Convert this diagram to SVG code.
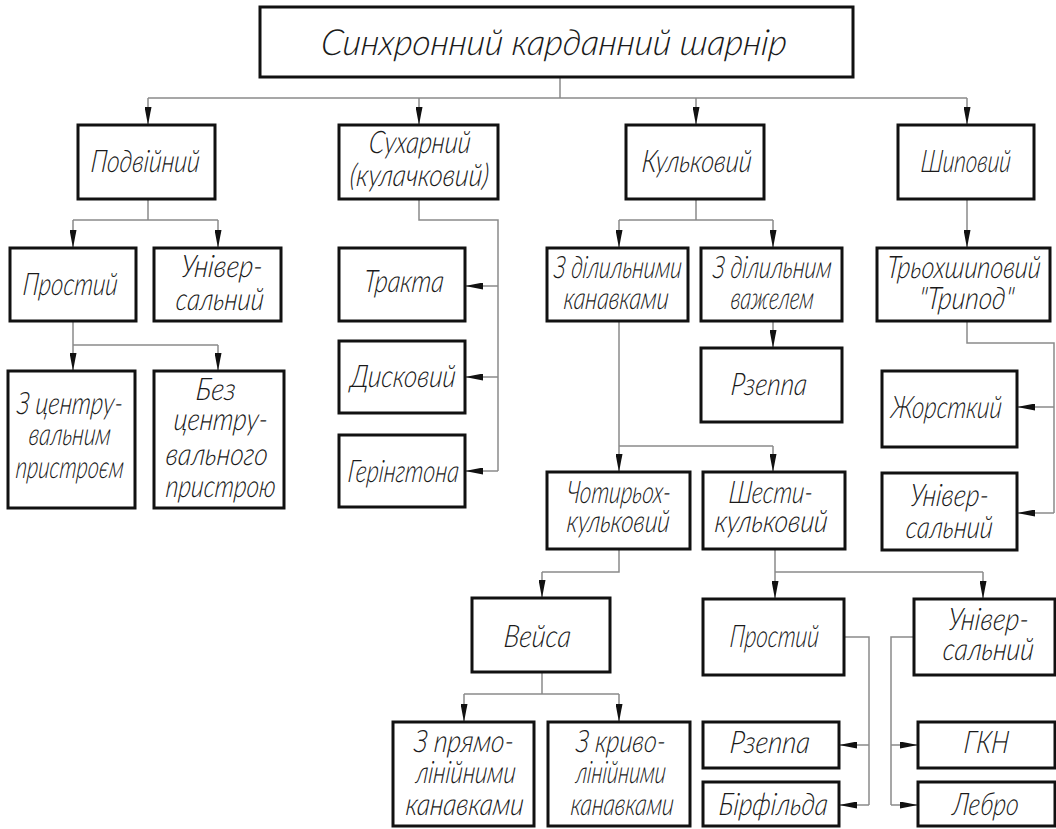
<svg xmlns="http://www.w3.org/2000/svg" width="1056" height="829" viewBox="0 0 1056 829">
<style>
.b{fill:#fff;stroke:#111;stroke-width:3}
.t{font-family:Lato,"DejaVu Sans",sans-serif;font-style:italic;font-weight:300;font-size:31px;fill:#1a1a1a}
.tt{font-size:36px}
.c{fill:none;stroke:#8a8a8a;stroke-width:1.5}
.a{fill:none;stroke:#8a8a8a;stroke-width:1.5;marker-end:url(#ar)}
</style>
<defs>
<marker id="ar" markerUnits="userSpaceOnUse" viewBox="0 0 18 7" refX="18" refY="3.5" markerWidth="18" markerHeight="7" orient="auto">
<path d="M0,0 L18,3.5 L0,7 Z" fill="#111"/>
</marker>
</defs>
<rect width="1056" height="829" fill="#fff"/>
<g id="connectors">
<path class="c" d="M560,77 V98 M148,98 H967"/>
<path class="a" d="M148,98 V125"/><path class="a" d="M419,98 V125"/><path class="a" d="M696,98 V125"/><path class="a" d="M967,98 V125"/>
<path class="c" d="M148,199 V220 M73,220 H218"/>
<path class="a" d="M73,220 V248"/><path class="a" d="M218,220 V248"/>
<path class="c" d="M73,321 V345 M73,345 H218"/>
<path class="a" d="M73,345 V371"/><path class="a" d="M218,345 V371"/>
<path class="c" d="M419,199 V220 H498 V471"/>
<path class="a" d="M498,286 H465"/><path class="a" d="M498,377 H465"/><path class="a" d="M498,471 H465"/>
<path class="c" d="M696,199 V220 M619,220 H773"/>
<path class="a" d="M619,220 V248"/><path class="a" d="M773,220 V248"/>
<path class="a" d="M773,321 V348"/>
<path class="c" d="M619,321 V446 M619,446 H773"/>
<path class="a" d="M619,446 V472"/><path class="a" d="M773,446 V472"/>
<path class="a" d="M967,199 V248"/>
<path class="c" d="M967,321 V343 H1054 V513"/>
<path class="a" d="M1054,407 H1017"/><path class="a" d="M1054,513 H1017"/>
<path class="c" d="M619,549 V572 H542"/>
<path class="a" d="M542,572 V598"/>
<path class="c" d="M542,672 V694 M464,694 H619"/>
<path class="a" d="M464,694 V722"/><path class="a" d="M619,694 V722"/>
<path class="c" d="M775,549 V572 M775,572 H983"/>
<path class="a" d="M775,572 V599"/><path class="a" d="M983,572 V599"/>
<path class="c" d="M844,637 H869 V805"/>
<path class="a" d="M869,745 H839"/><path class="a" d="M869,805 H839"/>
<path class="c" d="M914,637 H891 V805"/>
<path class="a" d="M891,745 H918"/><path class="a" d="M891,805 H918"/>
</g>
<g id="n-root"><rect class="b" x="260" y="7" width="593" height="70"/><text class="t tt" transform="translate(320,55) skewX(-6) scale(0.8,1)" textLength="582.5" lengthAdjust="spacingAndGlyphs">Синхронний карданний шарнір</text></g>
<g id="n-podviynyi"><rect class="b" x="78" y="125" width="137" height="74"/><text class="t" transform="translate(90,172) skewX(-6) scale(0.8,1)" textLength="136.25" lengthAdjust="spacingAndGlyphs">Подвійний</text></g>
<g id="n-sukharnyi"><rect class="b" x="339" y="125" width="159" height="74"/><text class="t" transform="translate(368,153) skewX(-6) scale(0.8,1)" textLength="127.5" lengthAdjust="spacingAndGlyphs">Сухарний</text><text class="t" transform="translate(349,186) skewX(-6) scale(0.8,1)" textLength="173.75" lengthAdjust="spacingAndGlyphs">(кулачковий)</text></g>
<g id="n-kulkovyi"><rect class="b" x="626" y="125" width="138" height="74"/><text class="t" transform="translate(641,172) skewX(-6) scale(0.8,1)" textLength="137.5" lengthAdjust="spacingAndGlyphs">Кульковий</text></g>
<g id="n-shypovyi"><rect class="b" x="898" y="125" width="136" height="74"/><text class="t" transform="translate(920,172) skewX(-6) scale(0.8,1)" textLength="112.5" lengthAdjust="spacingAndGlyphs">Шиповий</text></g>
<g id="n-prostyi1"><rect class="b" x="10" y="248" width="126" height="73"/><text class="t" transform="translate(22,295) skewX(-6) scale(0.8,1)" textLength="118.75" lengthAdjust="spacingAndGlyphs">Простий</text></g>
<g id="n-universal1"><rect class="b" x="154" y="248" width="127" height="73"/><text class="t" transform="translate(180,277) skewX(-6) scale(0.8,1)" textLength="102.5" lengthAdjust="spacingAndGlyphs">Універ-</text><text class="t" transform="translate(175,310) skewX(-6) scale(0.8,1)" textLength="110" lengthAdjust="spacingAndGlyphs">сальний</text></g>
<g id="n-z-tsentr"><rect class="b" x="8" y="371" width="127" height="137"/><text class="t" transform="translate(16,414) skewX(-6) scale(0.8,1)" textLength="132.5" lengthAdjust="spacingAndGlyphs">З центру-</text><text class="t" transform="translate(28,445) skewX(-6) scale(0.8,1)" textLength="102.5" lengthAdjust="spacingAndGlyphs">вальним</text><text class="t" transform="translate(15,478) skewX(-6) scale(0.8,1)" textLength="135" lengthAdjust="spacingAndGlyphs">пристроєм</text></g>
<g id="n-bez-tsentr"><rect class="b" x="154" y="371" width="130" height="137"/><text class="t" transform="translate(195,400) skewX(-6) scale(0.8,1)" textLength="50" lengthAdjust="spacingAndGlyphs">Без</text><text class="t" transform="translate(173,430) skewX(-6) scale(0.8,1)" textLength="117.5" lengthAdjust="spacingAndGlyphs">центру-</text><text class="t" transform="translate(165,465) skewX(-6) scale(0.8,1)" textLength="127.5" lengthAdjust="spacingAndGlyphs">вального</text><text class="t" transform="translate(165,497) skewX(-6) scale(0.8,1)" textLength="137.5" lengthAdjust="spacingAndGlyphs">пристрою</text></g>
<g id="n-trakta"><rect class="b" x="339" y="248" width="126" height="73"/><text class="t" transform="translate(363,292) skewX(-6) scale(0.8,1)" textLength="100" lengthAdjust="spacingAndGlyphs">Тракта</text></g>
<g id="n-dyskovyi"><rect class="b" x="339" y="341" width="126" height="72"/><text class="t" transform="translate(350,387) skewX(-6) scale(0.8,1)" textLength="131.25" lengthAdjust="spacingAndGlyphs">Дисковий</text></g>
<g id="n-herinhtona"><rect class="b" x="339" y="435" width="126" height="72"/><text class="t" transform="translate(347,482) skewX(-6) scale(0.8,1)" textLength="138.75" lengthAdjust="spacingAndGlyphs">Герінгтона</text></g>
<g id="n-dil-kanav"><rect class="b" x="547" y="248" width="141" height="73"/><text class="t" transform="translate(553,278) skewX(-6) scale(0.8,1)" textLength="160" lengthAdjust="spacingAndGlyphs">З ділильними</text><text class="t" transform="translate(563,309) skewX(-6) scale(0.8,1)" textLength="131.25" lengthAdjust="spacingAndGlyphs">канавками</text></g>
<g id="n-dil-vazh"><rect class="b" x="701" y="248" width="141" height="73"/><text class="t" transform="translate(712,278) skewX(-6) scale(0.8,1)" textLength="148.75" lengthAdjust="spacingAndGlyphs">З ділильним</text><text class="t" transform="translate(730,309) skewX(-6) scale(0.8,1)" textLength="103.75" lengthAdjust="spacingAndGlyphs">важелем</text></g>
<g id="n-rzeppa1"><rect class="b" x="701" y="348" width="141" height="74"/><text class="t" transform="translate(730,395) skewX(-6) scale(0.8,1)" textLength="95" lengthAdjust="spacingAndGlyphs">Рзеппа</text></g>
<g id="n-tripod"><rect class="b" x="877" y="248" width="173" height="73"/><text class="t" transform="translate(886,278) skewX(-6) scale(0.8,1)" textLength="192.5" lengthAdjust="spacingAndGlyphs">Трьохшиповий</text><text class="t" transform="translate(918,309) skewX(-6) scale(0.8,1)" textLength="118.75" lengthAdjust="spacingAndGlyphs">"Трипод"</text></g>
<g id="n-zhorstkyi"><rect class="b" x="882" y="371" width="135" height="76"/><text class="t" transform="translate(890,418) skewX(-6) scale(0.8,1)" textLength="138.75" lengthAdjust="spacingAndGlyphs">Жорсткий</text></g>
<g id="n-universal2"><rect class="b" x="882" y="473" width="135" height="77"/><text class="t" transform="translate(909,506) skewX(-6) scale(0.8,1)" textLength="98.75" lengthAdjust="spacingAndGlyphs">Універ-</text><text class="t" transform="translate(905,538) skewX(-6) scale(0.8,1)" textLength="108.75" lengthAdjust="spacingAndGlyphs">сальний</text></g>
<g id="n-chotyrokh"><rect class="b" x="547" y="472" width="143" height="77"/><text class="t" transform="translate(566,503) skewX(-6) scale(0.8,1)" textLength="130" lengthAdjust="spacingAndGlyphs">Чотирьох-</text><text class="t" transform="translate(566,532) skewX(-6) scale(0.8,1)" textLength="128.75" lengthAdjust="spacingAndGlyphs">кульковий</text></g>
<g id="n-shesty"><rect class="b" x="703" y="472" width="142" height="77"/><text class="t" transform="translate(728,503) skewX(-6) scale(0.8,1)" textLength="105" lengthAdjust="spacingAndGlyphs">Шести-</text><text class="t" transform="translate(714,532) skewX(-6) scale(0.8,1)" textLength="141.25" lengthAdjust="spacingAndGlyphs">кульковий</text></g>
<g id="n-veisa"><rect class="b" x="472" y="598" width="138" height="74"/><text class="t" transform="translate(503,647) skewX(-6) scale(0.8,1)" textLength="83.75" lengthAdjust="spacingAndGlyphs">Вейса</text></g>
<g id="n-priamo"><rect class="b" x="393" y="722" width="141" height="104"/><text class="t" transform="translate(413,752) skewX(-6) scale(0.8,1)" textLength="125" lengthAdjust="spacingAndGlyphs">З прямо-</text><text class="t" transform="translate(415,783) skewX(-6) scale(0.8,1)" textLength="125" lengthAdjust="spacingAndGlyphs">лінійними</text><text class="t" transform="translate(405,815) skewX(-6) scale(0.8,1)" textLength="147.5" lengthAdjust="spacingAndGlyphs">канавками</text></g>
<g id="n-kryvo"><rect class="b" x="548" y="722" width="142" height="104"/><text class="t" transform="translate(575,752) skewX(-6) scale(0.8,1)" textLength="112.5" lengthAdjust="spacingAndGlyphs">З криво-</text><text class="t" transform="translate(575,783) skewX(-6) scale(0.8,1)" textLength="112.5" lengthAdjust="spacingAndGlyphs">лінійними</text><text class="t" transform="translate(570,815) skewX(-6) scale(0.8,1)" textLength="128.75" lengthAdjust="spacingAndGlyphs">канавками</text></g>
<g id="n-prostyi2"><rect class="b" x="703" y="599" width="141" height="76"/><text class="t" transform="translate(729,647) skewX(-6) scale(0.8,1)" textLength="111.25" lengthAdjust="spacingAndGlyphs">Простий</text></g>
<g id="n-universal3"><rect class="b" x="914" y="599" width="141" height="76"/><text class="t" transform="translate(947,630) skewX(-6) scale(0.8,1)" textLength="101.25" lengthAdjust="spacingAndGlyphs">Універ-</text><text class="t" transform="translate(942,660) skewX(-6) scale(0.8,1)" textLength="113.75" lengthAdjust="spacingAndGlyphs">сальний</text></g>
<g id="n-rzeppa2"><rect class="b" x="703" y="722" width="136" height="46"/><text class="t" transform="translate(729,753) skewX(-6) scale(0.8,1)" textLength="100" lengthAdjust="spacingAndGlyphs">Рзеппа</text></g>
<g id="n-birfilda"><rect class="b" x="703" y="782" width="136" height="44"/><text class="t" transform="translate(718,815) skewX(-6) scale(0.8,1)" textLength="136.25" lengthAdjust="spacingAndGlyphs">Бірфільда</text></g>
<g id="n-gkn"><rect class="b" x="918" y="722" width="137" height="46"/><text class="t" transform="translate(963,753) skewX(-6) scale(0.8,1)" textLength="56.25" lengthAdjust="spacingAndGlyphs">ГКН</text></g>
<g id="n-lebro"><rect class="b" x="918" y="782" width="137" height="44"/><text class="t" transform="translate(952,815) skewX(-6) scale(0.8,1)" textLength="82.5" lengthAdjust="spacingAndGlyphs">Лебро</text></g>
</svg>
